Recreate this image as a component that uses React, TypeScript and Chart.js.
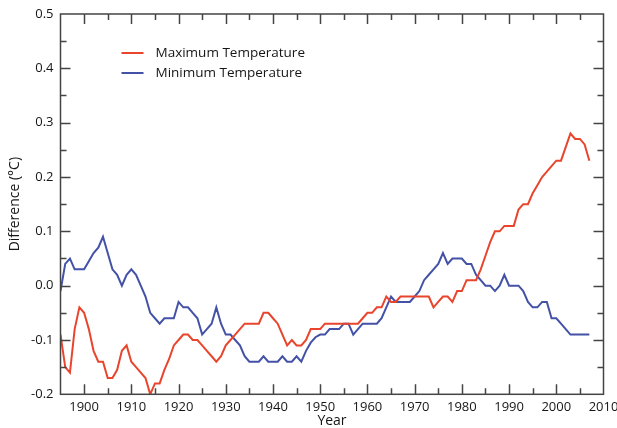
import React, { useEffect, useRef } from "react";
import { Chart, registerables } from "chart.js";

Chart.register(...registerables);

const years = [
  1895, 1896, 1897, 1898, 1899, 1900, 1901, 1902, 1903, 1904, 1905, 1906, 1907, 1908, 1909,
  1910, 1911, 1912, 1913, 1914, 1915, 1916, 1917, 1918, 1919, 1920, 1921, 1922, 1923, 1924,
  1925, 1926, 1927, 1928, 1929, 1930, 1931, 1932, 1933, 1934, 1935, 1936, 1937, 1938, 1939,
  1940, 1941, 1942, 1943, 1944, 1945, 1946, 1947, 1948, 1949, 1950, 1951, 1952, 1953, 1954,
  1955, 1956, 1957, 1958, 1959, 1960, 1961, 1962, 1963, 1964, 1965, 1966, 1967, 1968, 1969,
  1970, 1971, 1972, 1973, 1974, 1975, 1976, 1977, 1978, 1979, 1980, 1981, 1982, 1983, 1984,
  1985, 1986, 1987, 1988, 1989, 1990, 1991, 1992, 1993, 1994, 1995, 1996, 1997, 1998, 1999,
  2000, 2001, 2002, 2003, 2004, 2005, 2006, 2007,
];

const maxTemp = [
  -0.09, -0.15, -0.16, -0.08, -0.04, -0.05, -0.08, -0.12, -0.14, -0.14, -0.17, -0.17, -0.155, -0.12, -0.11,
  -0.14, -0.15, -0.16, -0.17, -0.2, -0.18, -0.18, -0.155, -0.135, -0.11, -0.1, -0.09, -0.09, -0.1, -0.1,
  -0.11, -0.12, -0.13, -0.14, -0.13, -0.11, -0.1, -0.09, -0.08, -0.07, -0.07, -0.07, -0.07, -0.05, -0.05,
  -0.06, -0.07, -0.09, -0.11, -0.1, -0.11, -0.11, -0.1, -0.08, -0.08, -0.08, -0.07, -0.07, -0.07, -0.07,
  -0.07, -0.07, -0.07, -0.07, -0.06, -0.05, -0.05, -0.04, -0.04, -0.02, -0.03, -0.03, -0.02, -0.02, -0.02,
  -0.02, -0.02, -0.02, -0.02, -0.04, -0.03, -0.02, -0.02, -0.03, -0.01, -0.01, 0.01, 0.01, 0.01, 0.03,
  0.055, 0.08, 0.1, 0.1, 0.11, 0.11, 0.11, 0.14, 0.15, 0.15, 0.17, 0.185, 0.2, 0.21, 0.22,
  0.23, 0.23, 0.255, 0.28, 0.27, 0.27, 0.26, 0.23,
];

const minTemp = [
  -0.01, 0.04, 0.05, 0.03, 0.03, 0.03, 0.045, 0.06, 0.07, 0.09, 0.06, 0.03, 0.02, 0.0, 0.02,
  0.03, 0.02, 0.0, -0.02, -0.05, -0.06, -0.07, -0.06, -0.06, -0.06, -0.03, -0.04, -0.04, -0.05, -0.06,
  -0.09, -0.08, -0.07, -0.04, -0.07, -0.09, -0.09, -0.1, -0.11, -0.13, -0.14, -0.14, -0.14, -0.13, -0.14,
  -0.14, -0.14, -0.13, -0.14, -0.14, -0.13, -0.14, -0.12, -0.105, -0.095, -0.09, -0.09, -0.08, -0.08, -0.08,
  -0.07, -0.07, -0.09, -0.08, -0.07, -0.07, -0.07, -0.07, -0.06, -0.04, -0.02, -0.03, -0.03, -0.03, -0.03,
  -0.02, -0.01, 0.01, 0.02, 0.03, 0.04, 0.06, 0.04, 0.05, 0.05, 0.05, 0.04, 0.04, 0.02, 0.01,
  0.0, 0.0, -0.01, 0.0, 0.02, 0.0, 0.0, 0.0, -0.01, -0.03, -0.04, -0.04, -0.03, -0.03, -0.06,
  -0.06, -0.07, -0.08, -0.09, -0.09, -0.09, -0.09, -0.09,
];

const xTickLabels = [1900, 1910, 1920, 1930, 1940, 1950, 1960, 1970, 1980, 1990, 2000, 2010];
const yTickLabels = [-0.2, -0.1, 0.0, 0.1, 0.2, 0.3, 0.4, 0.5];

const seriesNames = ["Maximum Temperature", "Minimum Temperature"];
const seriesColors = ["#E8452C", "#4352A6"];

const X_MIN = 1895;
const X_MAX = 2010;
const Y_MIN = -0.2;
const Y_MAX = 0.5;
const X_MINOR = 5;
const Y_MINOR = 0.05;

const FONT = "'Open Sans', 'Noto Sans', sans-serif";
const FRAME = "#444";
const TEXT = "#161616";

const framePlugin = {
  id: "frameTicks",
  afterDatasetsDraw(chart: any) {
    const { ctx, chartArea, scales } = chart;
    const { left, right, top, bottom } = chartArea;
    const xs = scales.x;
    const ys = scales.y;
    ctx.save();
    ctx.strokeStyle = FRAME;
    ctx.lineWidth = 1.5;
    ctx.beginPath();
    for (let v = X_MIN; v <= X_MAX + 1e-9; v += X_MINOR) {
      const px = Math.round(xs.getPixelForValue(v)) + 0.5;
      if (px <= left + 1 || px >= right - 1) continue;
      const len = v % 10 === 0 ? 10 : 6;
      ctx.moveTo(px, bottom);
      ctx.lineTo(px, bottom - len);
      ctx.moveTo(px, top);
      ctx.lineTo(px, top + len);
    }
    const n = Math.round((Y_MAX - Y_MIN) / Y_MINOR);
    for (let i = 0; i <= n; i++) {
      const v = Y_MIN + i * Y_MINOR;
      const py = Math.round(ys.getPixelForValue(v)) + 0.5;
      if (py <= top + 1 || py >= bottom - 1) continue;
      const len = i % 2 === 0 ? 10 : 6;
      ctx.moveTo(left, py);
      ctx.lineTo(left + len, py);
      ctx.moveTo(right, py);
      ctx.lineTo(right - len, py);
    }
    ctx.stroke();
    ctx.strokeRect(left, top, right - left, bottom - top);

    // legend inside the plot area
    const lx = left + 61;
    const rows = [top + 39, top + 59];
    ctx.font = `13.5px ${FONT}`;
    ctx.textBaseline = "middle";
    ctx.textAlign = "left";
    chart.data.datasets.forEach((ds: any, i: number) => {
      const yy = rows[i];
      ctx.strokeStyle = ds.borderColor;
      ctx.lineWidth = 2;
      ctx.beginPath();
      ctx.moveTo(lx, yy);
      ctx.lineTo(lx + 22, yy);
      ctx.stroke();
      ctx.fillStyle = TEXT;
      ctx.fillText(ds.label, lx + 34, yy);
    });
    ctx.restore();
  },
};

export default function App() {
  const ref = useRef<HTMLCanvasElement>(null);

  useEffect(() => {
    if (!ref.current) return;
    const tickFont = { family: FONT, size: 13 };
    const chart = new Chart(ref.current, {
      type: "line",
      data: {
        datasets: [
          {
            label: seriesNames[0],
            data: years.map((yr, i) => ({ x: yr, y: maxTemp[i] })),
            borderColor: seriesColors[0],
            backgroundColor: seriesColors[0],
            borderWidth: 2,
            pointRadius: 0,
            tension: 0,
          },
          {
            label: seriesNames[1],
            data: years.map((yr, i) => ({ x: yr, y: minTemp[i] })),
            borderColor: seriesColors[1],
            backgroundColor: seriesColors[1],
            borderWidth: 2,
            pointRadius: 0,
            tension: 0,
          },
        ],
      },
      options: {
        responsive: false,
        animation: false,
        devicePixelRatio: 1,
        layout: { padding: { top: 14, right: 13.5, bottom: 0, left: 0 } },
        plugins: {
          legend: { display: false },
          tooltip: { enabled: false },
        },
        scales: {
          x: {
            type: "linear",
            min: X_MIN,
            max: X_MAX,
            grid: { display: false, drawTicks: false },
            border: { display: false },
            afterBuildTicks: (s: any) => {
              s.ticks = xTickLabels.map((v) => ({ value: v }));
            },
            afterFit: (s: any) => {
              s.height = 33.7;
              s.paddingLeft = 0;
              s.paddingRight = 0;
            },
            ticks: {
              autoSkip: false,
              maxRotation: 0,
              padding: 5,
              color: TEXT,
              font: tickFont,
              callback: (v: any) => String(v),
            },
            title: {
              display: true,
              text: "Year",
              color: TEXT,
              font: { family: FONT, size: 14 },
              padding: { top: 0, bottom: -1 },
            },
          },
          y: {
            type: "linear",
            min: Y_MIN,
            max: Y_MAX,
            grid: { display: false, drawTicks: false },
            border: { display: false },
            afterBuildTicks: (s: any) => {
              s.ticks = yTickLabels.map((v) => ({ value: v }));
            },
            afterFit: (s: any) => {
              s.width = 60.5;
              s.paddingTop = 0;
              s.paddingBottom = 0;
            },
            ticks: {
              padding: 7,
              color: TEXT,
              font: tickFont,
              callback: (v: any) => Number(v).toFixed(1),
            },
            title: {
              display: true,
              text: "Difference (°C)",
              color: TEXT,
              font: { family: FONT, size: 14 },
              padding: { top: 7, bottom: 0 },
            },
          },
        },
      },
      plugins: [framePlugin],
    });
    return () => chart.destroy();
  }, []);

  return (
    <div style={{ position: "fixed", left: 0, top: 0, width: 617, height: 428, background: "#fff" }}>
      <canvas ref={ref} width={617} height={428} style={{ display: "block" }} />
    </div>
  );
}
